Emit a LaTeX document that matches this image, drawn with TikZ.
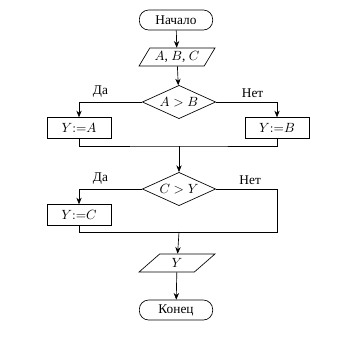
\documentclass[tikz,border=0pt]{standalone}
\usepackage{fontspec}
\setmainfont{Liberation Serif}
\usetikzlibrary{arrows.meta,shapes.geometric}

\begin{document}
\begin{tikzpicture}[
    x=0.75pt, y=-0.75pt,
    line width=0.5pt,
    every node/.style={font=\normalsize},
    term/.style={draw, rounded corners=7pt, minimum width=55pt, minimum height=15pt, inner sep=1pt},
    io/.style={draw, trapezium, trapezium left angle=56, trapezium right angle=124, minimum width=57pt, minimum height=13.5pt, inner sep=1pt, trapezium stretches=true},
    cond/.style={draw, diamond, aspect=2.2, minimum width=55pt, minimum height=25pt, inner sep=0pt},
    act/.style={draw, minimum width=48pt, minimum height=15.5pt, inner sep=1pt},
    arr/.style={-{Stealth[length=5pt,width=4pt]}}
  ]
    \useasboundingbox (0,0) rectangle (352,337);

    \node[term] (start) at (176,20) {Начало};
    \node[io] (inp) at (177,57) {$A$, $B$, $C$};
    \node[cond] (if1) at (179,102) {$A>B$};
    \node[act] (ya) at (79,128) {$Y{:=}A$};
    \node[act] (yb) at (277,128) {$Y{:=}B$};
    \coordinate (m1) at (179,146);
    \node[cond] (if2) at (179,189) {$C>Y$};
    \node[act] (yc) at (79,215) {$Y{:=}C$};
    \coordinate (r2) at (277,232);
    \coordinate (m2) at (179,232);
    \node[io] (outp) at (177,263) {$Y$};
    \node[term] (stop) at (176,310) {Конец};

    \draw[arr] (start) -- (inp);
    \draw[arr] (inp) -- (if1);
    \draw[arr] (if1) -| node[pos=0.33, above] {Да} (ya);
    \draw[arr] (if1) -| node[pos=0.3, above] {Нет} (yb);
    \draw (ya) |- (m1) -| (yb);
    \draw[arr] (m1) -- (if2);
    \draw[arr] (if2) -| node[pos=0.33, above] {Да} (yc);
    \draw (if2) -| node[pos=0.28, above] {Нет} (r2) -- (m2);
    \draw (yc) |- (m2);
    \draw[arr] (m2) -- (outp);
    \draw[arr] (outp) -- (stop);
  \end{tikzpicture}
\end{document}
